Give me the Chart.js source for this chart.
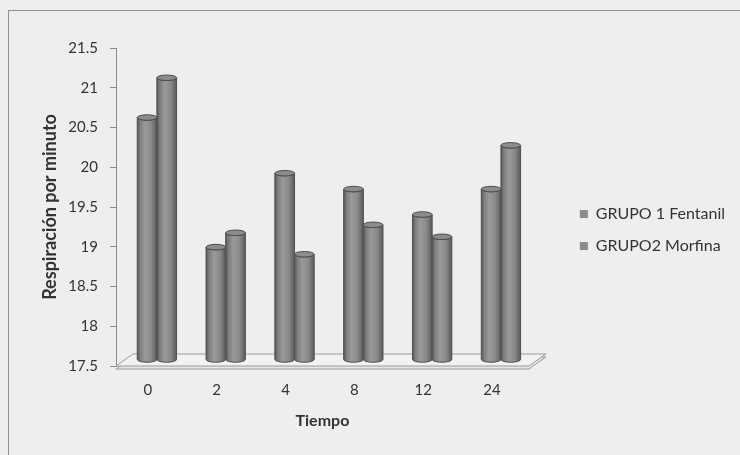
<!DOCTYPE html>
<html>
<head>
<meta charset="utf-8">
<script src="https://cdn.jsdelivr.net/npm/chart.js@4.4.1/dist/chart.umd.min.js"></script>
<style>
  html, body { margin: 0; padding: 0; background: #eeeeee; }
  #wrap { width: 740px; height: 455px; position: relative; }
</style>
</head>
<body>
<div id="wrap"><canvas id="chart" width="740" height="455"></canvas></div>
<script>
// Respiratory rate per minute over time, two groups
const categories = ['0', '2', '4', '8', '12', '24'];
const grupo1Fentanil = [20.55, 18.92, 19.85, 19.65, 19.33, 19.65];
const grupo2Morfina = [21.05, 19.1, 18.83, 19.2, 19.05, 20.2];
const seriesNames = ['GRUPO 1 Fentanil', 'GRUPO2 Morfina'];
const xTitle = 'Tiempo';
const yTitle = 'Respiración por minuto';
const yMin = 17.5;
const yMax = 21.5;
const yStep = 0.5;

const FONT = 'Lato, "Open Sans", "Liberation Sans", sans-serif';
const TEXT = '#333333';
const AXIS = '#8c8c8c';
const BAR = '#8a8a8a';

// pseudo-3D floor depth and the shift that puts columns mid-depth
const FLOOR = { dx: 17, dy: 12, thick: 3 };
const COLUMN_SHIFT = { dx: 6.5, dy: -6 };

const framePlugin = {
  id: 'frame',
  beforeDraw(chart) {
    const ctx = chart.ctx;
    ctx.save();
    ctx.fillStyle = '#eeeeee';
    ctx.fillRect(0, 0, chart.width, chart.height);
    ctx.strokeStyle = '#8f8f8f';
    ctx.lineWidth = 1;
    ctx.strokeRect(8.5, 10.5, chart.width + 10, chart.height + 10);
    ctx.restore();
  }
};

const depthPlugin = {
  id: 'depth',
  beforeDatasetsDraw(chart) {
    const ctx = chart.ctx;
    const { left, right, bottom } = chart.chartArea;
    const slab = (off) => {
      ctx.beginPath();
      ctx.moveTo(left, bottom + off);
      ctx.lineTo(right, bottom + off);
      ctx.lineTo(right + FLOOR.dx, bottom - FLOOR.dy + off);
      ctx.lineTo(left + FLOOR.dx, bottom - FLOOR.dy + off);
      ctx.closePath();
    };
    ctx.save();
    ctx.lineWidth = 1;
    ctx.strokeStyle = '#9a9a9a';
    ctx.fillStyle = '#e6e6e6';
    slab(FLOOR.thick); ctx.fill(); ctx.stroke();
    ctx.fillStyle = '#f2f2f2';
    slab(0); ctx.fill(); ctx.stroke();
    ctx.restore();

    ctx.save();
    ctx.translate(COLUMN_SHIFT.dx, COLUMN_SHIFT.dy);
  },
  afterDatasetsDraw(chart) {
    const ctx = chart.ctx;
    chart.data.datasets.forEach((ds, di) => {
      const meta = chart.getDatasetMeta(di);
      if (meta.hidden) return;
      meta.data.forEach((el) => {
        const { x, y, base, width } = el.getProps(['x', 'y', 'base', 'width'], true);
        const l = x - width / 2, r = x + width / 2;
        const rx = width / 2, ry = Math.max(2, width * 0.14);
        const g = ctx.createLinearGradient(l, 0, r, 0);
        g.addColorStop(0, '#585858');
        g.addColorStop(0.15, '#7e7e7e');
        g.addColorStop(0.4, '#9a9a9a');
        g.addColorStop(0.7, '#8a8a8a');
        g.addColorStop(1, '#5a5a5a');
        ctx.beginPath();
        ctx.moveTo(l, y);
        ctx.lineTo(l, base);
        ctx.ellipse(x, base, rx, ry, 0, Math.PI, 0, true);
        ctx.lineTo(r, y);
        ctx.ellipse(x, y, rx, ry, 0, 0, Math.PI, false);
        ctx.closePath();
        ctx.fillStyle = g;
        ctx.fill();
        ctx.strokeStyle = '#505050';
        ctx.lineWidth = 1;
        ctx.stroke();
        ctx.beginPath();
        ctx.ellipse(x, y, rx, ry, 0, 0, Math.PI * 2);
        ctx.fillStyle = '#8c8c8c';
        ctx.fill();
        ctx.strokeStyle = '#4e4e4e';
        ctx.stroke();
      });
    });
    ctx.restore();
  }
};

new Chart(document.getElementById('chart'), {
  type: 'bar',
  data: {
    labels: categories,
    datasets: [
      { label: seriesNames[0], data: grupo1Fentanil, backgroundColor: BAR, borderWidth: 0,
        base: yMin, categoryPercentage: 0.571, barPercentage: 1 },
      { label: seriesNames[1], data: grupo2Morfina, backgroundColor: BAR, borderWidth: 0,
        base: yMin, categoryPercentage: 0.571, barPercentage: 1 }
    ]
  },
  options: {
    responsive: false,
    animation: false,
    events: [],
    devicePixelRatio: 1,
    layout: { padding: { left: 8, top: 15, right: 5, bottom: 10 } },
    plugins: {
      tooltip: { enabled: false },
      title: { display: true, text: '', font: { size: 12 }, padding: { top: 18.6, bottom: 0 } },
      legend: {
        position: 'right',
        maxWidth: 300,
        labels: {
          color: TEXT,
          font: { family: FONT, size: 16 },
          boxWidth: 8,
          boxHeight: 8,
          padding: 16
        }
      }
    },
    scales: {
      x: {
        offset: true,
        grid: { display: false, drawTicks: false },
        border: { display: false },
        ticks: { color: TEXT, font: { family: FONT, size: 15 }, padding: 15, labelOffset: -2.5 },
        title: { display: true, text: xTitle, color: TEXT,
          font: { family: FONT, size: 16, weight: 'bold' }, padding: { top: 0, bottom: 14.4 } },
        afterFit(scale) { scale.height = 79; }
      },
      y: {
        min: yMin,
        max: yMax,
        ticks: { stepSize: yStep, color: TEXT, font: { family: FONT, size: 15 }, padding: 12,
          callback: (v) => String(Math.round(v * 10) / 10) },
        grid: { display: true, drawOnChartArea: false, drawTicks: true, tickLength: 6, color: AXIS },
        border: { display: true, color: AXIS },
        title: { display: true, text: yTitle, color: TEXT,
          font: { family: FONT, size: 18, weight: 'bold' }, padding: { top: 31.2, bottom: 0 } },
        afterFit(scale) { scale.width = 108; }
      },
      spacer: {
        type: 'linear',
        position: 'right',
        display: true,
        grid: { display: false, drawTicks: false },
        border: { display: false },
        ticks: { display: false },
        afterFit(scale) { scale.width = 35; }
      }
    }
  },
  plugins: [framePlugin, depthPlugin]
});
</script>
</body>
</html>
